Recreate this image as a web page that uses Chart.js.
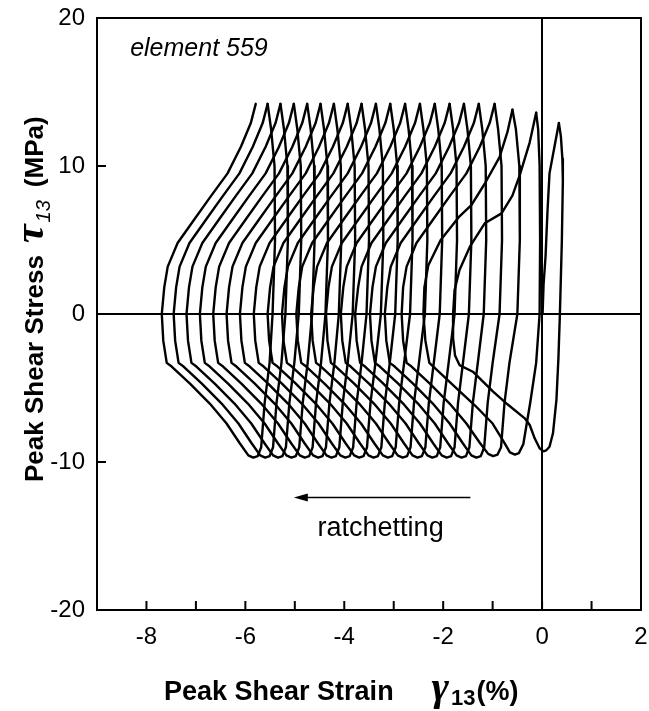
<!DOCTYPE html>
<html>
<head>
<meta charset="utf-8">
<script src="https://cdn.jsdelivr.net/npm/chart.js@4.4.1/dist/chart.umd.min.js"></script>
<style>
  html, body { margin: 0; padding: 0; background: #fff; }
  #wrap { width: 649px; height: 711px; position: relative; }
</style>
</head>
<body>
<div id="wrap"><canvas id="hysteresis"></canvas></div>
<script>
// tick labels
var xTickLabels = [-8, -6, -4, -2, 0, 2];
var yTickLabels = [-20, -10, 0, 10, 20];

// first loading from the origin, strain (%) and stress (MPa)
var initStrain = [0.01, 0.03, 0.07, 0.11, 0.15, 0.25, 0.34];
var initStress = [0, 2, 3.9, 7, 9.5, 11.3, 12.9];

// cycle 1 (peak 0.34 -> peak -0.12)
var loop1Strain = [0.34, 0.38, 0.41, 0.42, 0.40, 0.36, 0.33, 0.29, 0.22, 0.15, 0.08, 0.03,
  -0.05, -0.15, -0.25, -0.35, -0.70, -0.99, -1.40, -1.67, -1.76, -1.80, -1.80,
  -1.77, -1.67, -1.46, -1.16, -0.82, -0.60, -0.45, -0.25, -0.12];
var loop1Stress = [12.9, 12.0, 10.5, 9.0, 5.0, 0, -3.0, -5.8, -8.06, -8.97, -9.22, -9.28,
  -9.07, -8.4, -7.5, -7.05, -6.1, -5.25, -3.9, -3.45, -2.8, -1.64, 0,
  1.6, 2.97, 4.55, 6.13, 6.8, 8.0, 9.4, 11.6, 13.6];

// cycle 2 (peak -0.12 -> peak -0.60)
var loop2Strain = [-0.12, -0.08, -0.05, -0.04, -0.05, -0.12, -0.24, -0.38, -0.47, -0.55,
  -0.65, -0.78, -1.00, -1.35, -1.80, -2.15, -2.28, -2.36, -2.40,
  -2.38, -2.30, -2.05, -1.67, -1.43, -1.16, -0.86, -0.70, -0.60];
var loop2Stress = [13.6, 12.5, 10, 5, 0, -3.3, -6, -8.8, -9.4, -9.5,
  -9.35, -8.6, -7.4, -6.2, -4.8, -3.7, -3.3, -1.8, 0,
  1.8, 3.3, 5.0, 6.6, 7.36, 8.8, 10.6, 12.3, 13.8];

// cycle 3 (peak -0.60 -> peak -0.96)
var loop3Strain = [-0.60, -0.53, -0.46, -0.45, -0.50, -0.66, -0.76, -0.83, -0.90, -0.99,
  -1.09, -1.26, -1.53, -1.87, -2.27, -2.64, -2.74, -2.81, -2.84,
  -2.81, -2.74, -2.54, -2.20, -1.87, -1.53, -1.26, -1.06, -0.96];
var loop3Stress = [13.8, 12.5, 10, 5, 0, -3.3, -6, -9, -9.5, -9.6,
  -9.45, -8.7, -7.4, -6.05, -4.7, -3.55, -3.3, -1.8, 0,
  1.8, 3.2, 4.8, 6.4, 7.95, 9.5, 11.3, 12.9, 14.2];

// cycles 4..20 share the stress path below
var loopStress = [14.2, 12.5, 10, 5, 0, -3.3, -6, -9, -9.6, -9.7,
  -9.55, -8.75, -7.4, -6.05, -4.7, -3.55, -3.3, -1.8, 0,
  1.8, 3.2, 4.8, 6.4, 7.95, 9.5, 11.3, 12.9, 14.2];
var loopStrain = [
  [-0.96, -0.89, -0.82, -0.81, -0.86, -1.00, -1.10, -1.17, -1.24, -1.33, -1.43, -1.60, -1.87, -2.21, -2.61, -2.98, -3.08, -3.15, -3.18, -3.13, -3.06, -2.86, -2.52, -2.19, -1.85, -1.58, -1.38, -1.28],
  [-1.28, -1.21, -1.14, -1.13, -1.18, -1.30, -1.40, -1.47, -1.54, -1.63, -1.73, -1.90, -2.17, -2.51, -2.91, -3.28, -3.38, -3.45, -3.48, -3.43, -3.36, -3.16, -2.82, -2.49, -2.15, -1.88, -1.68, -1.58],
  [-1.58, -1.51, -1.44, -1.43, -1.48, -1.60, -1.70, -1.77, -1.84, -1.93, -2.03, -2.20, -2.47, -2.81, -3.21, -3.58, -3.68, -3.75, -3.78, -3.72, -3.65, -3.45, -3.11, -2.78, -2.44, -2.17, -1.97, -1.87],
  [-1.87, -1.80, -1.73, -1.72, -1.77, -1.89, -1.99, -2.06, -2.13, -2.22, -2.32, -2.49, -2.76, -3.10, -3.50, -3.87, -3.97, -4.04, -4.07, -4.02, -3.95, -3.75, -3.41, -3.08, -2.74, -2.47, -2.27, -2.17],
  [-2.17, -2.10, -2.03, -2.02, -2.07, -2.19, -2.29, -2.36, -2.43, -2.52, -2.62, -2.79, -3.06, -3.40, -3.80, -4.17, -4.27, -4.34, -4.37, -4.32, -4.25, -4.05, -3.71, -3.38, -3.04, -2.77, -2.57, -2.47],
  [-2.47, -2.40, -2.33, -2.32, -2.37, -2.49, -2.59, -2.66, -2.73, -2.82, -2.92, -3.09, -3.36, -3.70, -4.10, -4.47, -4.57, -4.64, -4.67, -4.62, -4.55, -4.35, -4.01, -3.68, -3.34, -3.07, -2.87, -2.77],
  [-2.77, -2.70, -2.63, -2.62, -2.67, -2.79, -2.89, -2.96, -3.03, -3.12, -3.22, -3.39, -3.66, -4.00, -4.40, -4.77, -4.87, -4.94, -4.97, -4.92, -4.85, -4.65, -4.31, -3.98, -3.64, -3.37, -3.17, -3.07],
  [-3.07, -3.00, -2.93, -2.92, -2.97, -3.08, -3.18, -3.25, -3.32, -3.41, -3.51, -3.68, -3.95, -4.29, -4.69, -5.06, -5.16, -5.23, -5.26, -5.21, -5.14, -4.94, -4.60, -4.27, -3.93, -3.66, -3.46, -3.36],
  [-3.36, -3.29, -3.22, -3.21, -3.26, -3.37, -3.47, -3.54, -3.61, -3.70, -3.80, -3.97, -4.24, -4.58, -4.98, -5.35, -5.45, -5.52, -5.55, -5.50, -5.43, -5.23, -4.89, -4.56, -4.22, -3.95, -3.75, -3.65],
  [-3.65, -3.58, -3.51, -3.50, -3.55, -3.65, -3.75, -3.82, -3.89, -3.98, -4.08, -4.25, -4.52, -4.86, -5.26, -5.63, -5.73, -5.80, -5.83, -5.78, -5.71, -5.51, -5.17, -4.84, -4.50, -4.23, -4.03, -3.93],
  [-3.93, -3.86, -3.79, -3.78, -3.83, -3.93, -4.03, -4.10, -4.17, -4.26, -4.36, -4.53, -4.80, -5.14, -5.54, -5.91, -6.01, -6.08, -6.11, -6.06, -5.99, -5.79, -5.45, -5.12, -4.78, -4.51, -4.31, -4.21],
  [-4.21, -4.14, -4.07, -4.06, -4.11, -4.20, -4.30, -4.37, -4.44, -4.53, -4.63, -4.80, -5.07, -5.41, -5.81, -6.18, -6.28, -6.35, -6.38, -6.33, -6.26, -6.06, -5.72, -5.39, -5.05, -4.78, -4.58, -4.48],
  [-4.48, -4.41, -4.34, -4.33, -4.38, -4.47, -4.57, -4.64, -4.71, -4.80, -4.90, -5.07, -5.34, -5.68, -6.08, -6.45, -6.55, -6.62, -6.65, -6.60, -6.53, -6.33, -5.99, -5.66, -5.32, -5.05, -4.85, -4.75],
  [-4.75, -4.68, -4.61, -4.60, -4.65, -4.74, -4.84, -4.91, -4.98, -5.07, -5.17, -5.34, -5.61, -5.95, -6.35, -6.72, -6.82, -6.89, -6.92, -6.87, -6.80, -6.60, -6.26, -5.93, -5.59, -5.32, -5.12, -5.02],
  [-5.02, -4.95, -4.88, -4.87, -4.92, -5.01, -5.11, -5.18, -5.25, -5.34, -5.44, -5.61, -5.88, -6.22, -6.62, -6.99, -7.09, -7.16, -7.19, -7.14, -7.07, -6.87, -6.53, -6.20, -5.86, -5.59, -5.39, -5.29],
  [-5.29, -5.22, -5.15, -5.14, -5.19, -5.27, -5.37, -5.44, -5.51, -5.60, -5.70, -5.87, -6.14, -6.48, -6.88, -7.25, -7.35, -7.42, -7.45, -7.40, -7.33, -7.13, -6.79, -6.46, -6.12, -5.85, -5.65, -5.55],
  [-5.55, -5.48, -5.41, -5.40, -5.45, -5.51, -5.61, -5.68, -5.75, -5.84, -5.94, -6.11, -6.38, -6.72, -7.12, -7.49, -7.59, -7.66, -7.69, -7.64, -7.57, -7.37, -7.03, -6.70, -6.36, -6.09, -5.89, -5.79]
];

function toPoints(xs, ys) {
  return xs.map(function(x, i) { return { x: x, y: ys[i] }; });
}

var curves = [
  toPoints(initStrain, initStress),
  toPoints(loop1Strain, loop1Stress),
  toPoints(loop2Strain, loop2Stress),
  toPoints(loop3Strain, loop3Stress)
];
loopStrain.forEach(function(xs) { curves.push(toPoints(xs, loopStress)); });

var FONT = '"Liberation Sans", Arial, Helvetica, sans-serif';
var SERIF = '"Liberation Serif", "Times New Roman", serif';

// frame, inward ticks, axis titles and notes
var decorations = {
  id: 'decorations',
  afterDraw: function(chart) {
    var ctx = chart.ctx, a = chart.chartArea;
    var xs = chart.scales.x, ys = chart.scales.y;
    ctx.save();
    ctx.strokeStyle = '#000';
    ctx.fillStyle = '#000';
    ctx.lineWidth = 2;
    ctx.strokeRect(a.left, a.top, a.right - a.left, a.bottom - a.top);

    ctx.beginPath();
    xs.ticks.forEach(function(t) {
      if (t.value > xs.min && t.value < xs.max) {
        var px = xs.getPixelForValue(t.value);
        ctx.moveTo(px, a.bottom);
        ctx.lineTo(px, a.bottom - 9);
      }
    });
    ys.ticks.forEach(function(t) {
      if (t.value > ys.min && t.value < ys.max) {
        var py = ys.getPixelForValue(t.value);
        ctx.moveTo(a.left, py);
        ctx.lineTo(a.left + 9, py);
      }
    });
    ctx.stroke();

    // ratchetting arrow
    var ay = ys.getPixelForValue(-12.4);
    var ax0 = xs.getPixelForValue(-1.45), ax1 = xs.getPixelForValue(-5.02);
    ctx.lineWidth = 1.5;
    ctx.beginPath();
    ctx.moveTo(ax0, ay);
    ctx.lineTo(ax1 + 10, ay);
    ctx.stroke();
    ctx.beginPath();
    ctx.moveTo(ax1, ay);
    ctx.lineTo(ax1 + 14, ay - 4);
    ctx.lineTo(ax1 + 14, ay + 4);
    ctx.closePath();
    ctx.fill();

    ctx.textBaseline = 'alphabetic';
    ctx.textAlign = 'left';
    ctx.font = 'italic 25px ' + FONT;
    ctx.fillText('element 559', xs.getPixelForValue(-8.33), ys.getPixelForValue(17.4));
    ctx.font = '27px ' + FONT;
    ctx.fillText('ratchetting', xs.getPixelForValue(-4.54), ys.getPixelForValue(-15.0));

    // x axis title
    var tx = 164, ty = 700;
    ctx.font = 'bold 27px ' + FONT;
    ctx.fillText('Peak Shear Strain', tx, ty);
    tx += ctx.measureText('Peak Shear Strain').width + 38;
    ctx.font = 'bold italic 42px ' + SERIF;
    ctx.fillText('\u03b3', tx, ty);
    tx += ctx.measureText('\u03b3').width + 2;
    ctx.font = 'bold 22px ' + FONT;
    ctx.fillText('13', tx, ty + 5);
    tx += ctx.measureText('13').width + 1;
    ctx.font = 'bold 27px ' + FONT;
    ctx.fillText('(%)', tx, ty);

    // y axis title, rotated
    ctx.translate(43, 482);
    ctx.rotate(-Math.PI / 2);
    var sx = 0;
    ctx.font = 'bold 26px ' + FONT;
    ctx.fillText('Peak Shear Stress', sx, 0);
    sx += ctx.measureText('Peak Shear Stress').width + 12;
    ctx.font = 'bold italic 42px ' + SERIF;
    ctx.fillText('\u03c4', sx, 0);
    sx += ctx.measureText('\u03c4').width + 2;
    ctx.font = 'italic 20px ' + FONT;
    ctx.fillText('13', sx, 7);
    sx += ctx.measureText('13').width + 13;
    ctx.font = 'bold 26px ' + FONT;
    ctx.fillText('(MPa)', sx, 0);
    ctx.restore();
  }
};

function zeroLine(c) {
  return c.tick && c.tick.value === 0 ? '#000' : 'rgba(0,0,0,0)';
}

var chart = new Chart(document.getElementById('hysteresis'), {
  type: 'scatter',
  data: {
    datasets: curves.map(function(pts) {
      return {
        data: pts,
        showLine: true,
        borderColor: '#000',
        borderWidth: 2.4,
        pointRadius: 0,
        tension: 0,
        borderJoinStyle: 'round',
        borderCapStyle: 'round'
      };
    })
  },
  options: {
    responsive: true,
    maintainAspectRatio: false,
    animation: false,
    events: [],
    layout: { padding: { top: 18, right: 8, left: 0, bottom: 0 } },
    plugins: {
      legend: { display: false },
      tooltip: { enabled: false }
    },
    scales: {
      x: {
        type: 'linear',
        min: -9,
        max: 2,
        afterFit: function(s) { s.height = 101; s.paddingLeft = 0; s.paddingRight = 0; },
        border: { display: true, color: '#000', width: 2 },
        grid: { drawTicks: false, color: zeroLine, lineWidth: 2 },
        ticks: {
          stepSize: 1,
          autoSkip: false,
          maxRotation: 0,
          padding: 13,
          color: '#000',
          font: { family: FONT, size: 24 },
          callback: function(v) { return xTickLabels.indexOf(v) >= 0 ? String(v) : ''; }
        }
      },
      y: {
        type: 'linear',
        min: -20,
        max: 20,
        afterFit: function(s) { s.width = 97; s.paddingTop = 0; s.paddingBottom = 0; },
        border: { display: true, color: '#000', width: 2 },
        grid: { drawTicks: false, color: zeroLine, lineWidth: 2 },
        ticks: {
          stepSize: 10,
          padding: 12,
          color: '#000',
          font: { family: FONT, size: 24 },
          callback: function(v) { return yTickLabels.indexOf(v) >= 0 ? String(v) : ''; }
        }
      }
    }
  },
  plugins: [decorations]
});
</script>
</body>
</html>
